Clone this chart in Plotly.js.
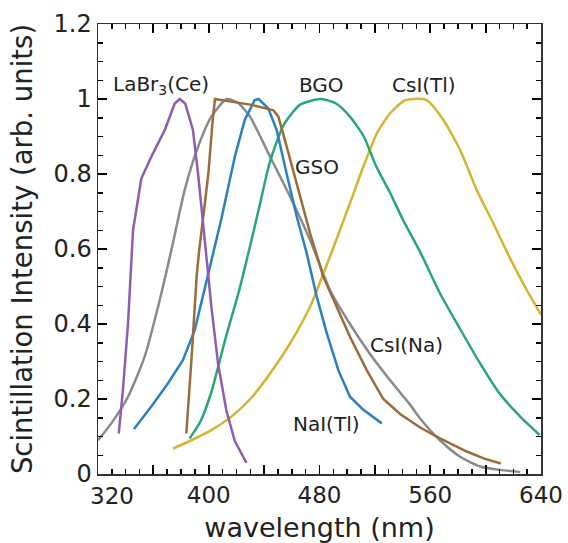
<!DOCTYPE html>
<html>
<head>
<meta charset="utf-8">
<script src="https://cdn.plot.ly/plotly-3.0.1.min.js"></script>
<style>html,body{margin:0;padding:0;background:#fff;}#chart{width:568px;height:543px;}</style>
</head>
<body>
<div id="chart"></div>
<script>
// Wavelength (nm) and intensity (arb. units)
const labrWl = [335, 338, 341.7, 345.3, 351.3, 358.5, 368.2, 375.4, 379, 383, 388.6, 392.3, 397.1, 401.9, 406.7, 412.7, 418.8, 427.2];
const labrI  = [0.108, 0.224, 0.402, 0.65, 0.788, 0.846, 0.917, 0.988, 1.0, 0.988, 0.917, 0.80, 0.624, 0.446, 0.295, 0.17, 0.088, 0.03];

const csinaWl = [320, 329.6, 341.7, 353.7, 363.4, 373, 382.6, 392.3, 401.9, 413, 421, 429.8, 444.3, 458.7, 473.2, 487.6, 502, 516.5, 531, 545.4, 552.7, 567, 581.6, 596, 610.5, 625];
const csinaI  = [0.09, 0.135, 0.206, 0.313, 0.446, 0.597, 0.757, 0.873, 0.953, 1.0, 0.99, 0.953, 0.846, 0.74, 0.624, 0.49, 0.40, 0.32, 0.25, 0.185, 0.148, 0.09, 0.046, 0.02, 0.011, 0.005];

const gsoWl = [383.8, 386, 387.7, 391.3, 393.2, 396.5, 399.7, 403, 404.5, 416, 430, 446.7, 450.3, 456.3, 463.6, 473.2, 482.8, 492.5, 502, 514.1, 526.1, 538.2, 552.7, 567, 586.4, 599, 611];
const gsoI  = [0.108, 0.22, 0.316, 0.53, 0.6, 0.70, 0.80, 0.95, 1.0, 0.993, 0.985, 0.97, 0.953, 0.873, 0.775, 0.642, 0.526, 0.446, 0.366, 0.277, 0.2, 0.16, 0.124, 0.095, 0.06, 0.041, 0.028];

const naiWl = [346, 358.5, 370.6, 381.4, 389.9, 399.5, 409.1, 418.8, 426, 433.2, 436, 443, 449.1, 456.3, 463.6, 470.8, 478, 485.3, 493.6, 502, 511.7, 525];
const naiI  = [0.12, 0.18, 0.242, 0.304, 0.384, 0.53, 0.68, 0.846, 0.944, 0.997, 1.0, 0.975, 0.917, 0.80, 0.686, 0.588, 0.473, 0.375, 0.277, 0.206, 0.171, 0.135];

const bgoWl = [386.2, 394, 402, 412, 422, 430, 437, 444, 454, 466, 481, 492, 502, 512, 521, 531, 540, 553, 567, 582, 596, 610, 625, 639];
const bgoI  = [0.095, 0.14, 0.22, 0.36, 0.49, 0.61, 0.72, 0.83, 0.93, 0.985, 1.0, 0.988, 0.953, 0.9, 0.82, 0.75, 0.68, 0.59, 0.482, 0.384, 0.295, 0.215, 0.153, 0.104];

const csitlWl = [374.3, 387.4, 401.9, 416.3, 430, 444.3, 458.7, 473.2, 487.6, 502, 511.7, 521.4, 531, 541, 548, 557.4, 569.5, 581.6, 593.6, 605.6, 617.7, 629.8, 640];
const csitlI  = [0.068, 0.09, 0.117, 0.153, 0.2, 0.268, 0.348, 0.446, 0.58, 0.722, 0.82, 0.908, 0.962, 0.995, 1.0, 0.997, 0.944, 0.864, 0.757, 0.668, 0.575, 0.49, 0.425];

// x axis: long ticks every 40 nm, labels every 80 nm; first label drawn slightly right of the corner
const xFirstLabel = '320';

const labels = [
  {text: 'LaBr<sub>3</sub>(Ce)', x: 365.5, y: 1.037},
  {text: 'BGO', x: 481.8, y: 1.037},
  {text: 'CsI(Tl)', x: 555.5, y: 1.037},
  {text: 'GSO', x: 478, y: 0.819},
  {text: 'CsI(Na)', x: 543, y: 0.344},
  {text: 'NaI(Tl)', x: 484.7, y: 0.133}
];

const W = 2.5;
const traces = [
  {x: csinaWl, y: csinaI, color: '#8a8a8a', shape: 'spline'},
  {x: csitlWl, y: csitlI, color: '#d6b431', shape: 'spline'},
  {x: bgoWl, y: bgoI, color: '#2aa673', shape: 'spline'},
  {x: naiWl, y: naiI, color: '#2b80c5', shape: 'linear'},
  {x: gsoWl, y: gsoI, color: '#9c6b3b', shape: 'linear'},
  {x: labrWl, y: labrI, color: '#8e5bb5', shape: 'linear'}
].map(t => ({
  type: 'scatter', mode: 'lines', x: t.x, y: t.y,
  line: {color: t.color, width: W, shape: t.shape, smoothing: 0.6},
  hoverinfo: 'skip', showlegend: false
}));

const font = 'DejaVu Sans, sans-serif';
const annots = labels.map(a => ({
  x: a.x, y: a.y, xref: 'x', yref: 'y', text: a.text, showarrow: false,
  font: {size: 20, family: font, color: '#222'}, xanchor: 'center', yanchor: 'middle'
}));
annots.push({
  x: 320, y: 0, xref: 'x', yref: 'paper', text: xFirstLabel, showarrow: false,
  xshift: 14, yshift: -22, xanchor: 'center', yanchor: 'middle',
  font: {size: 23, family: font, color: '#222'}
});

const layout = {
  width: 568, height: 543,
  margin: {l: 98, r: 27, t: 24, b: 69},
  paper_bgcolor: '#fff', plot_bgcolor: '#fff',
  font: {family: font, color: '#222', size: 23},
  showlegend: false,
  xaxis: {
    range: [320, 640], tickmode: 'linear', tick0: 320, dtick: 40, ticklabelstep: 2,
    labelalias: {'320': ''},
    ticks: 'inside', ticklen: 9, tickwidth: 1.8, tickcolor: 'black',
    minor: {dtick: 10, ticks: 'inside', ticklen: 5, tickwidth: 1.5, tickcolor: 'black'},
    showline: true, linecolor: '#333', linewidth: 1.5, mirror: 'allticks',
    showgrid: false, zeroline: false,
    tickfont: {size: 23, family: font, color: '#222'},
    title: {text: 'wavelength (nm)', font: {size: 27, family: font, color: '#222'}, standoff: 12}
  },
  yaxis: {
    range: [0, 1.2], dtick: 0.2,
    tickprefix: '\u00a0\u2009',
    ticks: 'inside', ticklen: 9, tickwidth: 1.8, tickcolor: 'black',
    minor: {dtick: 0.05, ticks: 'inside', ticklen: 5, tickwidth: 1.5, tickcolor: 'black'},
    showline: true, linecolor: '#333', linewidth: 1.5, mirror: 'allticks',
    showgrid: false, zeroline: false,
    tickfont: {size: 24, family: font, color: '#222'},
    title: {text: 'Scintillation Intensity (arb. units)', font: {size: 27.5, family: font, color: '#222'}, standoff: 0}
  },
  annotations: annots
};

Plotly.newPlot('chart', traces, layout, {staticPlot: true, displayModeBar: false});
</script>
</body>
</html>
